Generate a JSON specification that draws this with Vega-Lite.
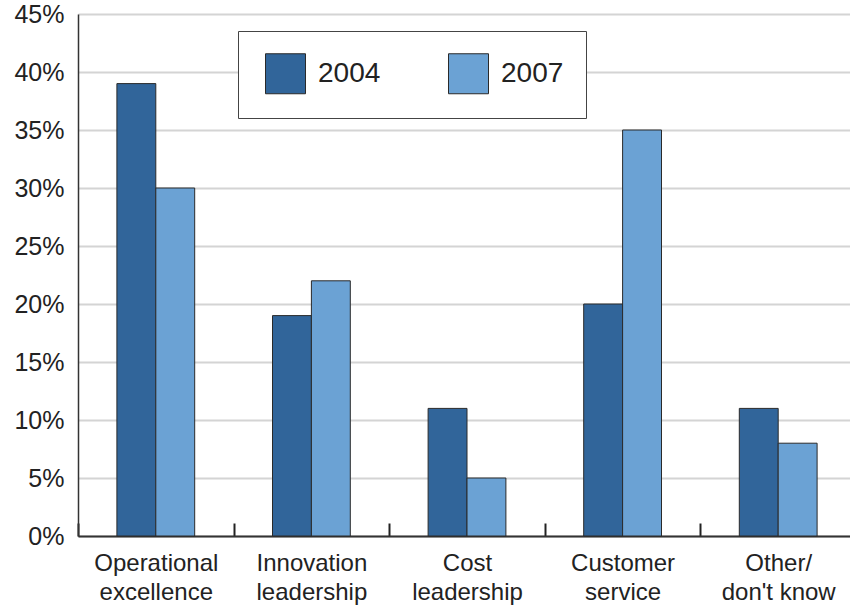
{
  "$schema": "https://vega.github.io/schema/vega-lite/v6.json",
  "autosize": {"type": "none"},
  "padding": {"left": 78, "top": 14, "right": 0, "bottom": 70},
  "width": 772,
  "height": 522,
  "background": "white",
  "config": {
    "view": {"stroke": null},
    "font": "Liberation Sans"
  },
  "data": {
    "values": [
      {"category": "Operational excellence", "year": "2004", "share": 0.39},
      {"category": "Operational excellence", "year": "2007", "share": 0.30},
      {"category": "Innovation leadership", "year": "2004", "share": 0.19},
      {"category": "Innovation leadership", "year": "2007", "share": 0.22},
      {"category": "Cost leadership", "year": "2004", "share": 0.11},
      {"category": "Cost leadership", "year": "2007", "share": 0.05},
      {"category": "Customer service", "year": "2004", "share": 0.20},
      {"category": "Customer service", "year": "2007", "share": 0.35},
      {"category": "Other/ don't know", "year": "2004", "share": 0.11},
      {"category": "Other/ don't know", "year": "2007", "share": 0.08}
    ]
  },
  "mark": {"type": "bar", "stroke": "#2a2a2a", "strokeWidth": 1},
  "encoding": {
    "x": {
      "field": "category",
      "type": "nominal",
      "sort": null,
      "scale": {"range": [0, 778], "paddingInner": 0, "paddingOuter": 0},
      "axis": {
        "title": null,
        "labelAngle": 0,
        "labelFontSize": 24,
        "labelColor": "#222",
        "labelBaseline": "top",
        "labelPadding": 28,
        "labelLineHeight": 29,
        "labelExpr": "[slice(datum.label, 0, indexof(datum.label, ' ')), slice(datum.label, indexof(datum.label, ' ') + 1)]",
        "tickBand": "extent",
        "tickSize": -13,
        "tickColor": "#222",
        "tickWidth": 2,
        "domainColor": "#333",
        "domainWidth": 2,
        "grid": false
      }
    },
    "xOffset": {
      "field": "year",
      "type": "nominal",
      "scale": {"paddingInner": 0, "paddingOuter": 1}
    },
    "y": {
      "field": "share",
      "type": "quantitative",
      "scale": {"domain": [0, 0.45], "nice": false},
      "axis": {
        "title": null,
        "values": [0, 0.05, 0.1, 0.15, 0.2, 0.25, 0.3, 0.35, 0.4, 0.45],
        "format": ".0%",
        "labelFontSize": 25,
        "labelColor": "#222",
        "labelPadding": 14,
        "ticks": false,
        "domainColor": "#333",
        "domainWidth": 1.5,
        "gridColor": "#d4d4d4",
        "gridWidth": 2
      }
    },
    "color": {
      "field": "year",
      "type": "nominal",
      "scale": {"domain": ["2004", "2007"], "range": ["#31659a", "#6ba2d4"]},
      "legend": {
        "title": null,
        "orient": "none",
        "legendX": 160,
        "legendY": 17,
        "direction": "horizontal",
        "padding": 22,
        "fillColor": "white",
        "strokeColor": "#444",
        "symbolType": "square",
        "symbolSize": 1600,
        "symbolOffset": 5,
        "symbolStrokeColor": "#2a2a2a",
        "symbolStrokeWidth": 1,
        "symbolOpacity": 1,
        "labelFontSize": 28,
        "labelColor": "#222",
        "labelOffset": 12,
        "columnPadding": 62
      }
    }
  }
}
